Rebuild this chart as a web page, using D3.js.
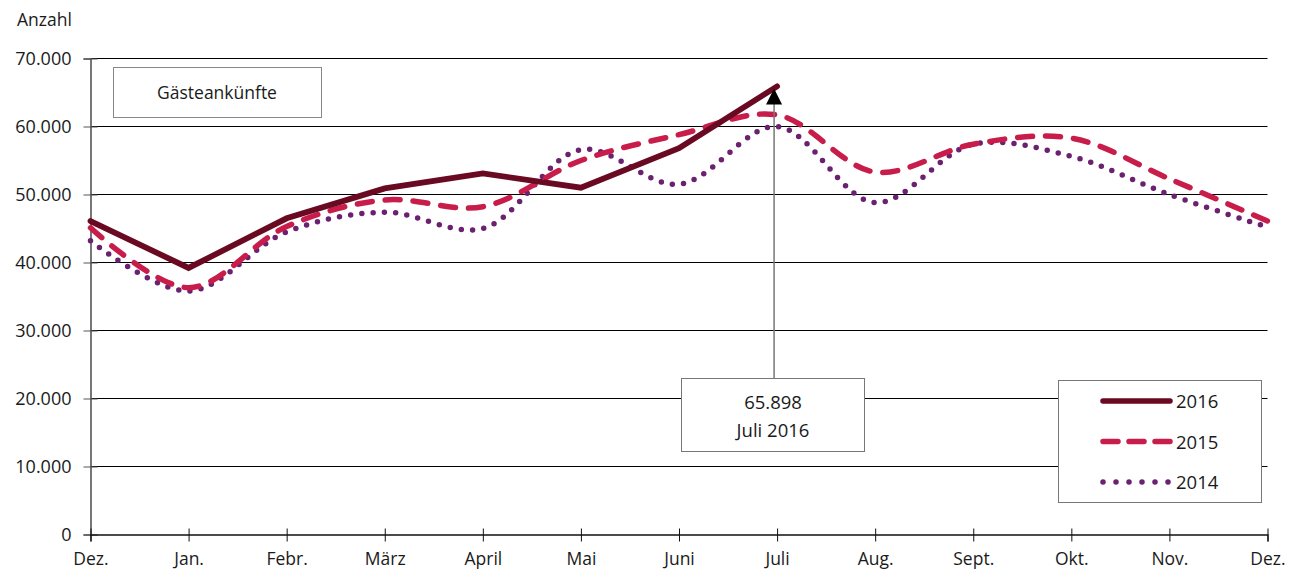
<!DOCTYPE html>
<html><head><meta charset="utf-8">
<script src="https://cdn.jsdelivr.net/npm/d3@7"></script>
<style>
body{margin:0;background:#fff;}
text{font-family:"Open Sans","Noto Sans",sans-serif;fill:#1a1a1a;}
</style></head>
<body><svg id="c" width="1300" height="576"></svg>
<script>
const months = ["Dez.","Jan.","Febr.","März","April","Mai","Juni","Juli","Aug.","Sept.","Okt.","Nov.","Dez."];
const yTicks = [0,10000,20000,30000,40000,50000,60000,70000];
const v2016 = [46100,39200,46500,50900,53100,51000,56800,65898];
const v2015 = [45100,36300,45300,49200,48200,55000,58800,61700,53300,57400,58300,52300,46100];
const v2014 = [43200,35800,44500,47400,45000,56600,51500,60000,48800,57400,55600,50000,45200];
const seriesNames = ["2016","2015","2014"];
const peakLabel = ["65.898","Juli 2016"];
const title = "Gästeankünfte";

const svg = d3.select("#c");
const L = 90.5, R = 1267.5, T = 58.5, B = 534.5;
const x = d3.scaleLinear().domain([0, months.length-1]).range([L, R]);
const y = d3.scaleLinear().domain([0,70000]).range([B, T]);
const fmt = d => d3.format(",")(d).replace(/,/g,".");

// gridlines
svg.append("g").selectAll("line").data(yTicks.filter(d=>d>0)).join("line")
  .attr("x1",L).attr("x2",R).attr("y1",d=>y(d)).attr("y2",d=>y(d))
  .attr("stroke","#000").attr("stroke-width",1.1);

// y axis
const ya = svg.append("g").attr("transform",`translate(${L},0)`)
  .call(d3.axisLeft(y).tickValues(yTicks).tickFormat(fmt).tickSize(7).tickPadding(12));
ya.select(".domain").attr("stroke","#555").attr("stroke-width",1.6);
ya.selectAll(".tick line").attr("stroke","#555").attr("x2",7).attr("x1",-7);
ya.selectAll("text").style("font-size","18px").attr("fill","#1a1a1a");

// x axis
const xa = svg.append("g").attr("transform",`translate(0,${B})`)
  .call(d3.axisBottom(x).tickValues(d3.range(months.length)).tickFormat(i=>months[i]).tickSize(7).tickPadding(11));
xa.select(".domain").attr("stroke","#111").attr("stroke-width",1.3);
xa.selectAll(".tick line").attr("stroke","#111").attr("y1",-6).attr("y2",7);
xa.selectAll("text").style("font-size","17.5px").attr("fill","#1a1a1a");

// axis title
svg.append("text").attr("x",17).attr("y",26).style("font-size","17.5px").text("Anzahl");

// title box
svg.append("rect").attr("x",113.5).attr("y",67.5).attr("width",208).attr("height",50)
  .attr("fill","#fff").attr("stroke","#888").attr("stroke-width",1);
svg.append("text").attr("x",217).attr("y",99).attr("text-anchor","middle").style("font-size","17.5px").text(title);

// lines
const lineStraight = d3.line().x((d,i)=>x(i)).y(d=>y(d));
const lineSmooth = d3.line().x((d,i)=>x(i)).y(d=>y(d)).curve(d3.curveCatmullRom.alpha(0.5));

svg.append("path").datum(v2014).attr("d",lineSmooth).attr("fill","none")
  .attr("stroke","#6b2170").attr("stroke-width",5.5).attr("stroke-linecap","round").attr("stroke-dasharray","0 11.3");
svg.append("path").datum(v2015).attr("d",lineSmooth).attr("fill","none")
  .attr("stroke","#c81d4a").attr("stroke-width",5.5).attr("stroke-linecap","round").attr("stroke-dasharray","15 13");
svg.append("path").datum(v2016).attr("d",lineStraight).attr("fill","none")
  .attr("stroke","#6a0a22").attr("stroke-width",5.8).attr("stroke-linejoin","miter").attr("stroke-linecap","round");

// annotation
const ax = x(7) - 3;
svg.append("line").attr("x1",ax).attr("x2",ax).attr("y1",378).attr("y2",y(v2016[7])+14)
  .attr("stroke","#777").attr("stroke-width",1.5);
svg.append("path").attr("d",`M${ax},${y(v2016[7])+2} L${ax-8},${y(v2016[7])+18} L${ax+8},${y(v2016[7])+18} Z`).attr("fill","#000");
svg.append("rect").attr("x",681.5).attr("y",378.5).attr("width",183).attr("height",73)
  .attr("fill","#fff").attr("stroke","#777").attr("stroke-width",1);
svg.append("text").attr("x",773).attr("y",409).attr("text-anchor","middle").style("font-size","18.5px").text(peakLabel[0]);
svg.append("text").attr("x",773).attr("y",437).attr("text-anchor","middle").style("font-size","18.5px").text(peakLabel[1]);

// legend
svg.append("rect").attr("x",1058.5).attr("y",380.5).attr("width",203).attr("height",122)
  .attr("fill","#fff").attr("stroke","#777").attr("stroke-width",1);
const legStyles = [
  {c:"#6a0a22",d:null},
  {c:"#c81d4a",d:"15 11"},
  {c:"#6b2170",d:"0 13"}
];
seriesNames.forEach((n,i)=>{
  const ly = 401 + i*40.5;
  const ln = svg.append("line").attr("x1",1103).attr("x2",1170).attr("y1",ly).attr("y2",ly)
    .attr("stroke",legStyles[i].c).attr("stroke-width",5.5).attr("stroke-linecap","round");
  if (legStyles[i].d) ln.attr("stroke-dasharray",legStyles[i].d);
  svg.append("text").attr("x",1176).attr("y",ly+7).style("font-size","18.5px").text(n);
});
</script></body></html>
